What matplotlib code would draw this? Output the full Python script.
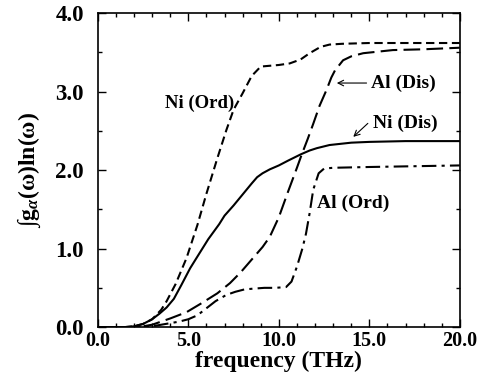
import numpy as np
import matplotlib
matplotlib.use('Agg')
import matplotlib.pyplot as plt
from matplotlib.ticker import MultipleLocator, FormatStrFormatter

plt.rcParams['font.family'] = ['Liberation Serif', 'DejaVu Serif']
plt.rcParams['font.weight'] = 'bold'
plt.rcParams['mathtext.fontset'] = 'custom'
plt.rcParams['mathtext.rm'] = 'Liberation Serif'
plt.rcParams['mathtext.it'] = 'Liberation Serif:italic'

# curves
ni_ord_x = [0, 1.5, 2.0, 2.5, 3.0, 3.5, 3.8, 4.3, 4.9, 5.5, 6.0, 6.6, 7.1, 7.5, 8.0, 8.5, 9.0, 9.5, 10.0, 10.6, 11.2, 11.7, 12.3, 12.8, 13.5, 15.0, 20.0]
ni_ord_y = [0, 0, 0.01, 0.04, 0.1, 0.22, 0.33, 0.55, 0.88, 1.3, 1.7, 2.15, 2.51, 2.77, 2.98, 3.2, 3.32, 3.33, 3.34, 3.36, 3.41, 3.49, 3.57, 3.6, 3.61, 3.62, 3.62]

ni_dis_x = [0, 1.5, 2.0, 2.5, 3.0, 3.4, 3.8, 4.2, 4.6, 5.1, 5.45, 6.1, 6.7, 7.0, 7.5, 8.0, 8.5, 8.8, 9.1, 9.5, 10.0, 10.5, 11.2, 11.7, 12.1, 12.8, 14.0, 15.0, 17.0, 20.0]
ni_dis_y = [0, 0, 0.01, 0.04, 0.1, 0.17, 0.25, 0.36, 0.53, 0.75, 0.88, 1.12, 1.31, 1.42, 1.55, 1.69, 1.83, 1.91, 1.96, 2.01, 2.06, 2.12, 2.2, 2.25, 2.28, 2.32, 2.35, 2.36, 2.37, 2.37]

al_dis_x = [0, 2.0, 2.5, 3.0, 3.5, 4.0, 4.9, 5.7, 6.6, 7.3, 7.9, 8.5, 9.1, 9.5, 10.0, 10.5, 11.0, 11.25, 11.6, 11.9, 12.25, 12.63, 12.9, 13.1, 13.55, 14.0, 14.66, 16.3, 18.0, 20.0]
al_dis_y = [0, 0, 0.01, 0.03, 0.07, 0.11, 0.19, 0.3, 0.43, 0.56, 0.7, 0.86, 1.02, 1.15, 1.4, 1.72, 2.03, 2.19, 2.4, 2.59, 2.82, 3.02, 3.18, 3.27, 3.4, 3.45, 3.49, 3.53, 3.54, 3.56]

al_ord_x = [0, 2.5, 3.0, 3.5, 4.0, 4.5, 5.0, 5.5, 6.0, 6.5, 7.1, 7.6, 8.1, 8.6, 9.2, 9.8, 10.4, 10.7, 11.0, 11.3, 11.5, 11.7, 11.9, 12.2, 12.5, 13.0, 15.0, 20.0]
al_ord_y = [0, 0, 0.01, 0.03, 0.05, 0.07, 0.1, 0.15, 0.24, 0.33, 0.41, 0.45, 0.48, 0.49, 0.5, 0.5, 0.51, 0.58, 0.77, 1.0, 1.19, 1.45, 1.75, 1.96, 2.02, 2.03, 2.04, 2.06]

fig = plt.figure(figsize=(4.82, 3.88), dpi=100)
ax = fig.add_axes([0.203, 0.157, 0.751, 0.809])

lw = 1.5
ax.plot(ni_ord_x, ni_ord_y, color='black', lw=lw, dashes=(4, 2.2))
ax.plot(ni_dis_x, ni_dis_y, color='black', lw=lw)
ax.plot(al_dis_x, al_dis_y, color='black', lw=lw, dashes=(8, 3))
ax.plot(al_ord_x, al_ord_y, color='black', lw=lw, dashes=(7, 2.5, 1.5, 2.5))

ax.set_xlim(0, 20)
ax.set_ylim(0, 4)
ax.xaxis.set_major_locator(MultipleLocator(5))
ax.xaxis.set_minor_locator(MultipleLocator(1))
ax.yaxis.set_major_locator(MultipleLocator(1))
ax.yaxis.set_minor_locator(MultipleLocator(0.5))
ax.xaxis.set_major_formatter(FormatStrFormatter('%.1f'))
ax.yaxis.set_major_formatter(FormatStrFormatter('%.1f'))
ax.tick_params(which='both', direction='in', top=True, right=True, width=1)
ax.tick_params(which='major', length=6)
ax.tick_params(which='minor', length=3)
ax.tick_params(axis='x', labelsize=14.5, pad=3)
ax.tick_params(axis='y', labelsize=16.5, pad=10)
for s in ax.spines.values():
    s.set_linewidth(1.2)

ax.set_xlabel('frequency (THz)', fontsize=17, fontweight='bold', labelpad=0)
ax.set_ylabel(r'$\int$g$_\alpha$(ω)ln(ω)', fontsize=17, fontweight='bold', labelpad=9)

ax.text(5.6, 2.85, 'Ni (Ord)', fontsize=13.5, fontweight='bold', ha='center', va='center')
ax.text(15.1, 3.11, 'Al (Dis)', fontsize=14, fontweight='bold', ha='left', va='center')
ax.annotate('', xy=(13.05, 3.11), xytext=(15.0, 3.11),
            arrowprops=dict(arrowstyle='->', color='black', lw=0.8))
ax.text(15.2, 2.6, 'Ni (Dis)', fontsize=14, fontweight='bold', ha='left', va='center')
ax.annotate('', xy=(14.0, 2.40), xytext=(15.03, 2.62),
            arrowprops=dict(arrowstyle='->', color='black', lw=0.8))
ax.text(14.1, 1.58, 'Al (Ord)', fontsize=14, fontweight='bold', ha='center', va='center')

fig.savefig('out.png', dpi=100)
